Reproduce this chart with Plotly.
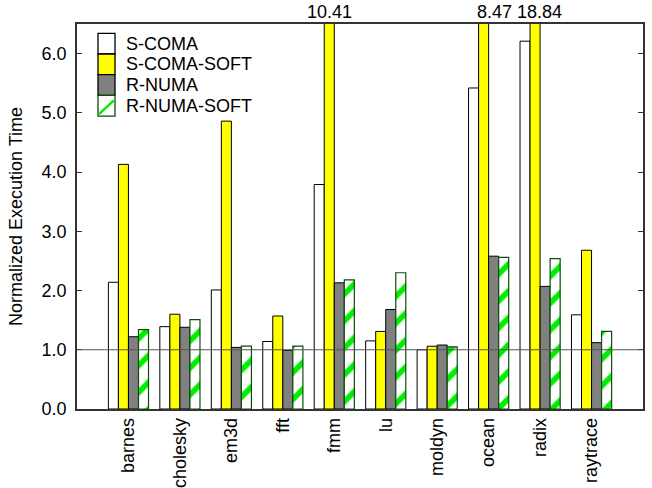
import plotly.graph_objects as go

# Benchmarks and normalized execution times per protocol
benchmarks = ["barnes", "cholesky", "em3d", "fft", "fmm", "lu", "moldyn", "ocean", "radix", "raytrace"]
s_coma = [2.14, 1.39, 2.01, 1.14, 3.79, 1.15, 1.00, 5.42, 6.21, 1.59]
s_coma_soft = [4.13, 1.60, 4.86, 1.57, 10.41, 1.31, 1.06, 8.47, 18.84, 2.68]
r_numa = [1.22, 1.38, 1.04, 0.99, 2.13, 1.68, 1.08, 2.58, 2.07, 1.12]
r_numa_soft = [1.34, 1.51, 1.06, 1.06, 2.18, 2.30, 1.05, 2.56, 2.54, 1.31]
series_names = ["S-COMA", "S-COMA-SOFT", "R-NUMA", "R-NUMA-SOFT"]
y_tick_vals = [0, 1, 2, 3, 4, 5, 6]
y_max = 6.5
baseline = 1.0

FONT = "Liberation Sans, Arial, sans-serif"
FS = 18

W, H = 652, 488
M_L, M_R, M_T, M_B = 77, 9, 24, 79
PW, PH = W - M_L - M_R, H - M_T - M_B


def px_x(x):
    return (x - M_L) / PW


def px_y(y):
    return (H - M_B - y) / PH


fig = go.Figure()

HATCH = "#00ee00"
HATCH_EDGE = "#0b4d0b"

styles = [
    dict(color="white", line=dict(color="black", width=1)),
    dict(color="#ffff00", line=dict(color="black", width=1)),
    dict(color="#808080", line=dict(color="black", width=1)),
    dict(color="white", line=dict(color=HATCH_EDGE, width=1.2),
         pattern=dict(shape="/", fgcolor=HATCH, bgcolor="white", fgopacity=1,
                      fillmode="replace", size=19, solidity=0.3)),
]

for name, vals, st in zip(series_names, [s_coma, s_coma_soft, r_numa, r_numa_soft], styles):
    fig.add_trace(go.Bar(x=benchmarks, y=vals, name=name, marker=st, showlegend=False))

# values of bars clipped by the top of the axis
annotations = []
label_shift = {"fmm": 0, "ocean": 11, "radix": 4}
for b, v in zip(benchmarks, s_coma_soft):
    if v > y_max:
        annotations.append(dict(
            x=b, y=1, xref="x", yref="paper", text=f"{v:.2f}",
            showarrow=False, yanchor="bottom", yshift=0,
            xshift=-5 + label_shift.get(b, 0),
            font=dict(family=FONT, size=FS, color="black")))

# legend drawn as swatches + labels
shapes = []
sw_x0, sw_x1 = 98, 115
item_h = 20.7
top0 = 33.3
fills = ["white", "#ffff00", "#808080", "white"]
for i, name in enumerate(series_names):
    y0 = top0 + i * item_h
    y1 = y0 + item_h
    border = HATCH_EDGE if i == 3 else "black"
    shapes.append(dict(type="rect", xref="paper", yref="paper",
                       x0=px_x(sw_x0), x1=px_x(sw_x1), y0=px_y(y1), y1=px_y(y0),
                       fillcolor=fills[i], line=dict(color=border, width=1.3), layer="above"))
    if i == 3:
        shapes.append(dict(type="line", xref="paper", yref="paper",
                           x0=px_x(sw_x0 + 1), x1=px_x(sw_x1 - 1),
                           y0=px_y(y1 - 2), y1=px_y(y0 + 5),
                           line=dict(color=HATCH, width=2.5), layer="above"))
    annotations.append(dict(x=px_x(124), y=px_y((y0 + y1) / 2), xref="paper", yref="paper",
                            text=name, showarrow=False, xanchor="left", yanchor="middle",
                            font=dict(family=FONT, size=FS, color="black")))

# reference line at normalized time 1.0
shapes.append(dict(type="line", xref="paper", yref="y", x0=0, x1=1, y0=baseline, y1=baseline,
                   line=dict(color="#555555", width=1.2), layer="above"))

fig.update_layout(
    width=W, height=H,
    margin=dict(l=M_L, r=M_R, t=M_T, b=M_B, pad=0, autoexpand=False),
    paper_bgcolor="white", plot_bgcolor="white",
    barmode="group", bargap=0.22, bargroupgap=0,
    font=dict(family=FONT, size=FS, color="black"),
    shapes=shapes, annotations=annotations,
    xaxis=dict(range=[-1, 10], showgrid=False, ticks="", tickangle=-90, automargin=False,
               showline=True, linecolor="#333333", linewidth=1.5, mirror=True,
               tickfont=dict(family=FONT, size=FS)),
    yaxis=dict(range=[0, y_max], tickvals=y_tick_vals, automargin=False,
               ticktext=[f"{v:.1f}" for v in y_tick_vals],
               showgrid=False, zeroline=False, ticks="inside", ticklen=5, tickcolor="#333333",
               ticklabelstandoff=5,
               showline=True, linecolor="#333333", linewidth=1.5, mirror="allticks",
               tickfont=dict(family=FONT, size=FS),
               title=dict(text="Normalized Execution Time", font=dict(family=FONT, size=FS),
                          standoff=14)),
)

fig.write_html("out.html")
